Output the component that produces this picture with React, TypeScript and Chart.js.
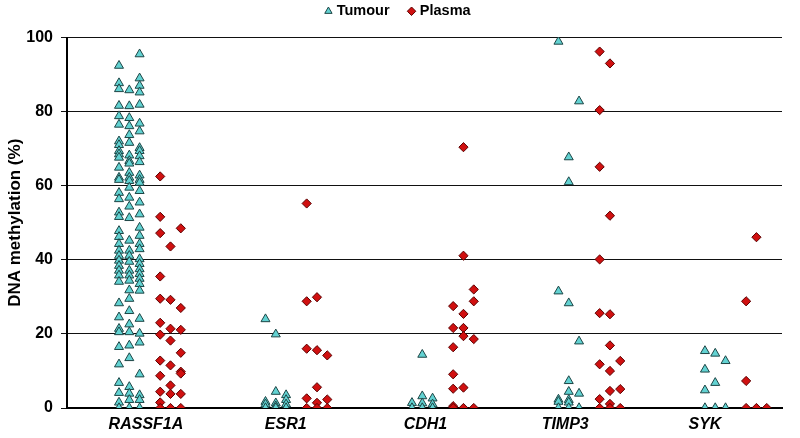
import { useEffect, useRef } from 'react';
import { Chart, registerables } from 'chart.js';

Chart.register(...registerables);

const genes = ['RASSF1A', 'ESR1', 'CDH1', 'TIMP3', 'SYK'];
const yTickStep = 20;

// Each gene/group: three jitter columns of methylation values (%)
const rassf1aTumour = [
  [92.4, 87.7, 86.1, 81.6, 78.8, 76.5, 72, 71, 69.4, 68.5, 67.6, 64.9, 62.2, 61.6, 58.1, 56.4, 52.8, 51.6, 47.8, 46.2, 44.3, 42.5, 41.1, 39.8, 38.4, 37.1, 35.8, 34.1, 28.3, 24.5, 21.4, 20.5, 16.5, 11.8, 6.8, 4.1, 1.5, 0],
  [85.8, 81.5, 78.3, 76.1, 73.7, 71.6, 68.2, 66.7, 66, 63.5, 62.2, 61.3, 59.5, 56.8, 54.4, 51.3, 45.2, 42.5, 41.1, 39.5, 37.1, 35.8, 34.4, 31.8, 29.5, 26.2, 22.6, 20.5, 16.9, 13.5, 5.7, 3.9, 2.2, 0],
  [95.5, 89, 87, 85.2, 81.9, 76.8, 74.7, 70.2, 69.4, 68, 66.4, 62.8, 61.6, 60.8, 58.6, 55.5, 52.3, 48.7, 46.5, 44.3, 42.9, 40.2, 38.9, 37.5, 36.2, 34.9, 33.5, 31.7, 24.1, 20.1, 17.7, 9.1, 3.5, 2.2, 0],
];
const rassf1aPlasma = [
  [62.5, 51.6, 47.2, 35.5, 29.5, 23.0, 19.8, 12.8, 8.7, 4.4, 1.5, 0],
  [43.6, 29.2, 21.4, 18.2, 11.5, 6.1, 3.8, 0],
  [48.5, 27.0, 21.1, 14.9, 9.8, 9.3, 3.8, 0],
];
const esr1Tumour = [
  [24.0, 1.7, 1.0, 0],
  [19.9, 4.4, 1.3, 0.5, 0],
  [3.5, 2.2, 1.0, 0],
];
const esr1Plasma = [
  [55.2, 28.8, 16.0, 2.6, 0],
  [29.9, 15.6, 5.6, 1.4, 0],
  [14.2, 2.3, 0],
];
const cdh1Tumour = [
  [1.4, 0],
  [14.4, 3.2, 1.3, 0],
  [2.6, 1.0, 0],
];
const cdh1Plasma = [
  [27.5, 21.6, 16.4, 9.1, 5.2, 0.5, 0],
  [70.4, 41.1, 25.4, 21.6, 19.4, 5.5, 0],
  [32.0, 28.8, 18.6, 0],
];
const timp3Tumour = [
  [98.9, 31.5, 2.3, 1.7, 0],
  [67.7, 61.0, 28.3, 7.3, 4.4, 2.2, 1.5, 0],
  [82.8, 18.0, 3.9, 0],
];
const timp3Plasma = [
  [96.2, 80.4, 65.1, 40.1, 25.6, 11.8, 2.4, 0],
  [93.0, 51.9, 25.3, 16.9, 10.0, 4.6, 1.1, 0],
  [12.7, 5.1, 0],
];
const sykTumour = [
  [15.4, 10.4, 4.8, 0],
  [14.7, 6.8, 0],
  [12.7, 0],
];
const sykPlasma = [
  [28.8, 7.3, 0],
  [46.1, 0],
  [0],
];

const tumourByGene = [rassf1aTumour, esr1Tumour, cdh1Tumour, timp3Tumour, sykTumour];
const plasmaByGene = [rassf1aPlasma, esr1Plasma, cdh1Plasma, timp3Plasma, sykPlasma];

// layout constants (x in "gene" units)
const COL_STEP = 0.0703;
const PLASMA_SHIFT = 4;
const X_MIN = -0.355;
const X_MAX = 4.526;
const LABEL_START = 0.184;
const LABEL_STEP = 0.954;

const toPoints = (groups: number[][][], shift: number) =>
  groups.flatMap((cols, gi) =>
    cols.flatMap((vals, ci) => vals.map((v) => ({ x: gi + (ci + shift) * COL_STEP, y: v })))
  );

const FONT = 'Arial, "Liberation Sans", sans-serif';

export default function App() {
  const ref = useRef<HTMLCanvasElement | null>(null);
  useEffect(() => {
    if (!ref.current) return;
    const chart = new Chart(ref.current, {
      type: 'scatter',
      data: {
        datasets: [
          {
            label: 'Tumour',
            data: toPoints(tumourByGene, 0),
            pointStyle: 'triangle',
            pointRadius: 5.2,
            backgroundColor: '#62d2d2',
            borderColor: '#1d4545',
            borderWidth: 1,
          },
          {
            label: 'Plasma',
            data: toPoints(plasmaByGene, PLASMA_SHIFT),
            pointStyle: 'rectRot',
            pointRadius: 4.6,
            backgroundColor: '#d01010',
            borderColor: '#5a0000',
            borderWidth: 1,
          },
        ],
      },
      options: {
        animation: false,
        responsive: true,
        maintainAspectRatio: false,
        layout: { autoPadding: false, padding: { top: -17, right: 18, bottom: 3, left: 16 } },
        plugins: {
          tooltip: { enabled: false },
          legend: {
            position: 'top',
            labels: {
              usePointStyle: true,
              boxHeight: 6,
              boxWidth: 2,
              padding: 21,
              color: '#000',
              font: { family: FONT, size: 14.5, weight: 'bold' },
            },
          },
          // empty spacer between legend and plot area
          title: {
            display: true,
            text: '',
            weight: 500,
            padding: { top: 0, bottom: 3 },
            font: { size: 5 },
          },
        },
        scales: {
          x: {
            type: 'linear',
            min: X_MIN,
            max: X_MAX,
            grid: { display: false, drawTicks: false },
            border: { color: '#000', width: 2 },
            afterBuildTicks: (s: any) => {
              s.ticks = genes.map((_, i) => ({ value: LABEL_START + i * LABEL_STEP }));
            },
            afterFit: (s: any) => {
              s.height = 27;
            },
            ticks: {
              autoSkip: false,
              maxRotation: 0,
              padding: 7,
              color: '#000',
              font: { family: FONT, size: 16, weight: 'bold', style: 'italic' },
              callback: (_v: any, i: number) => genes[i],
            },
          },
          y: {
            min: 0,
            max: 100,
            afterFit: (s: any) => {
              s.width = 51;
            },
            ticks: {
              stepSize: yTickStep,
              padding: 8,
              color: '#000',
              font: { family: FONT, size: 16, weight: 'bold' },
            },
            grid: { color: '#111', lineWidth: 1, tickLength: 6 },
            border: { color: '#000', width: 2 },
            title: {
              display: true,
              text: 'DNA methylation (%)',
              color: '#000',
              padding: { top: -11, bottom: 1 },
              font: { family: FONT, size: 17, weight: 'bold' },
            },
          },
        },
      },
    });
    return () => chart.destroy();
  }, []);
  return (
    <div style={{ position: 'fixed', left: 0, top: 0, width: 800, height: 438, background: '#fff' }}>
      <canvas ref={ref} />
    </div>
  );
}
